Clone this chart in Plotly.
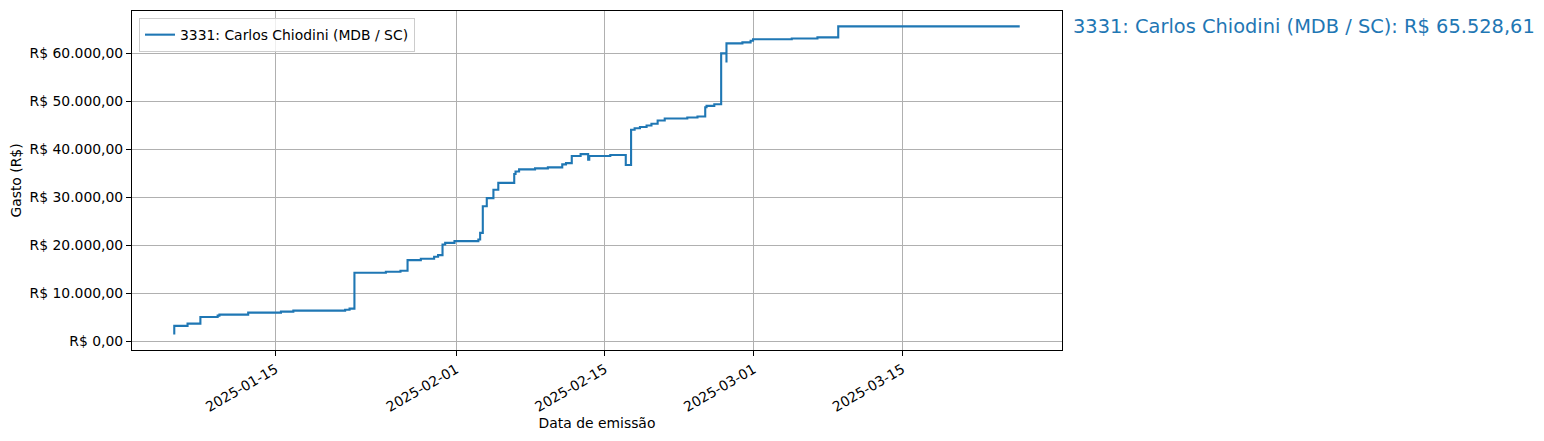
import plotly.graph_objects as go
import pandas as pd

deputy = "3331: Carlos Chiodini (MDB / SC)"

dates = [
    "2025-01-05 11:00", "2025-01-05 11:00", "2025-01-06 17:00", "2025-01-07 22:00",
    "2025-01-09 13:00", "2025-01-09 17:00", "2025-01-12 10:00", "2025-01-15 12:00",
    "2025-01-16 16:00", "2025-01-21 13:00", "2025-01-21 23:00", "2025-01-22 10:00",
    "2025-01-25 09:00", "2025-01-26 18:00", "2025-01-27 10:00", "2025-01-28 16:00",
    "2025-01-29 22:00", "2025-01-30 07:00", "2025-01-30 17:00", "2025-01-30 23:00",
    "2025-01-31 20:00", "2025-02-03 02:00", "2025-02-03 06:00", "2025-02-03 12:00",
    "2025-02-03 21:00", "2025-02-04 12:00", "2025-02-04 23:00", "2025-02-06 11:00",
    "2025-02-06 14:00", "2025-02-06 22:00", "2025-02-08 10:00", "2025-02-09 15:00",
    "2025-02-10 23:30", "2025-02-11 08:00", "2025-02-11 21:00", "2025-02-12 17:00",
    "2025-02-13 10:00", "2025-02-13 12:30", "2025-02-15 12:00", "2025-02-16 23:00",
    "2025-02-17 11:00", "2025-02-17 19:00", "2025-02-18 07:00", "2025-02-18 22:00",
    "2025-02-19 09:00", "2025-02-19 23:00", "2025-02-20 15:00", "2025-02-22 18:00",
    "2025-02-23 17:00", "2025-02-24 10:30", "2025-02-24 13:30", "2025-02-25 07:00",
    "2025-02-25 22:30", "2025-02-26 10:30", "2025-02-26 10:30", "2025-02-27 22:30",
    "2025-02-28 17:00", "2025-02-28 22:30", "2025-03-04 14:00", "2025-03-07 00:00",
    "2025-03-08 23:00", "2025-03-26 01:00",
]

cumulative_spend = [
    1450.00, 3260.00, 3730.00, 5120.00,
    5390.00, 5600.00, 6010.00, 6220.00,
    6430.00, 6630.00, 6840.00, 14310.00,
    14510.00, 14720.00, 16940.00, 17210.00,
    17620.00, 17980.00, 20190.00, 20530.00,
    20880.00, 21230.00, 22600.00, 28140.00,
    29820.00, 31560.00, 33000.00, 34850.00,
    35350.00, 35810.00, 36020.00, 36220.00,
    36840.00, 37110.00, 38570.00, 38980.00,
    37820.00, 38570.00, 38800.00, 36700.00,
    44040.00, 44350.00, 44620.00, 44930.00,
    45280.00, 45970.00, 46380.00, 46590.00,
    46800.00, 48730.00, 49000.00, 49350.00,
    59920.00, 58050.00, 62000.00, 62200.00,
    62550.00, 62850.00, 63030.00, 63240.00,
    65528.61, 65528.61,
]

ytick_values = [0, 10000, 20000, 30000, 40000, 50000, 60000]
xtick_dates = ["2025-01-15", "2025-02-01", "2025-02-15", "2025-03-01", "2025-03-15"]


def brl(v):
    s = f"{v:,.2f}"
    s = s.replace(",", "X").replace(".", ",").replace("X", ".")
    return "R$ " + s


ts = pd.to_datetime(dates)
span = ts.max() - ts.min()
x_range = [(ts.min() - 0.05 * span).isoformat(), (ts.max() + 0.05 * span).isoformat()]
vmin, vmax = min(cumulative_spend), max(cumulative_spend)
vpad = 0.05 * (vmax - vmin)
y_range = [vmin - vpad, vmax + vpad]

FONT = "DejaVu Sans"
BLUE = "#1f77b4"

fig = go.Figure()
fig.add_trace(go.Scatter(
    x=dates, y=cumulative_spend, mode="lines", line_shape="hv",
    line=dict(color=BLUE, width=2.1), name=deputy,
))

fig.add_annotation(
    x=1.01, xref="paper", y=cumulative_spend[-1], yref="y",
    text=f"{deputy}: {brl(cumulative_spend[-1])}",
    showarrow=False, xanchor="left", yanchor="middle",
    font=dict(family=FONT, size=19.4, color=BLUE),
)

axis_common = dict(
    showline=True, mirror=True, linecolor="black", linewidth=1.1,
    showgrid=True, gridcolor="#b0b0b0", gridwidth=1.1, zeroline=False,
    ticks="outside", ticklen=5, tickwidth=1.1, tickcolor="black",
    tickfont=dict(family=FONT, size=13.9, color="black"),
)

fig.update_xaxes(
    type="date", range=x_range,
    tickvals=xtick_dates, ticktext=xtick_dates, tickangle=-30,
    title=dict(text="Data de emissão", font=dict(family=FONT, size=13.9, color="black"), standoff=4),
    **axis_common,
)
fig.update_yaxes(
    range=y_range,
    tickvals=ytick_values, ticktext=[brl(v) for v in ytick_values],
    title=dict(text="Gasto (R$)", font=dict(family=FONT, size=13.9, color="black"), standoff=6),
    **axis_common,
)

# The page body has an 8px default margin, so the figure is 8px smaller
fig.update_layout(
    width=1536, height=433,
    margin=dict(l=124, r=482, t=3, b=91, autoexpand=False),
    paper_bgcolor="white", plot_bgcolor="white",
    font=dict(family=FONT, size=13.9, color="black"),
    showlegend=True,
    legend=dict(
        x=0.0075, y=0.979, xanchor="left", yanchor="top",
        bgcolor="rgba(255,255,255,0.8)", bordercolor="#cccccc", borderwidth=1,
        font=dict(family=FONT, size=13.9, color="black"),
        tracegroupgap=0,
    ),
)

fig.write_html("out.html", config={"displayModeBar": False})
